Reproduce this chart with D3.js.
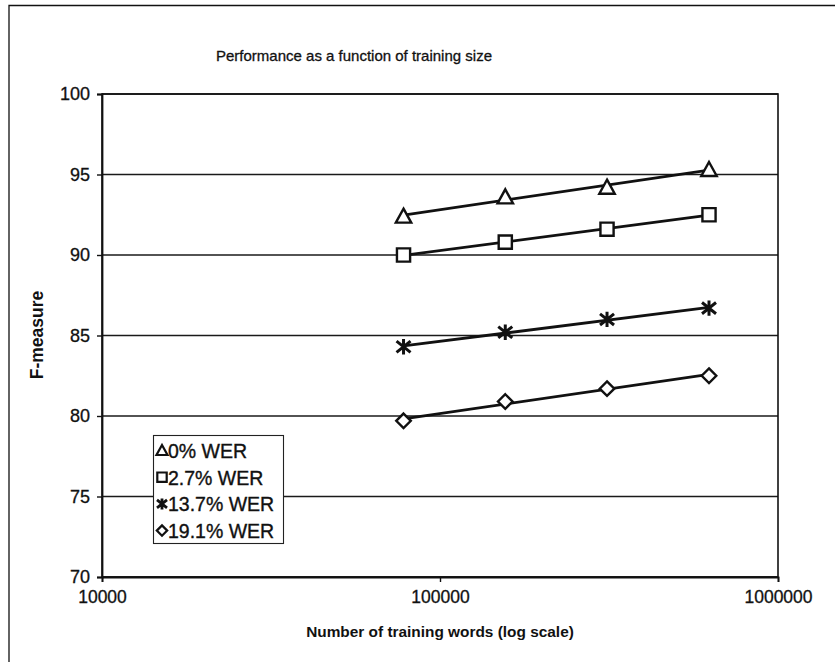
<!DOCTYPE html>
<html>
<head>
<meta charset="utf-8">
<script src="https://cdn.jsdelivr.net/npm/d3@7"></script>
<style>
  body { margin: 0; background: #fff; }
  svg { font-family: "Liberation Sans", Arial, sans-serif; }
</style>
</head>
<body>
<svg width="835" height="662"></svg>
<script>
const width = 835;
const height = 662;

// data
const trainingWords = [78000, 156000, 312000, 625000];
const seriesNames = ["0% WER", "2.7% WER", "13.7% WER", "19.1% WER"];
const seriesSymbols = ["triangle", "square", "star", "diamond"];
const wer0 = [92.4, 93.6, 94.2, 95.3];
const wer27 = [90.0, 90.8, 91.6, 92.5];
const wer137 = [84.3, 85.2, 86.0, 86.7];
const wer191 = [79.7, 80.9, 81.7, 82.5];
const seriesValues = [wer0, wer27, wer137, wer191];
const yTicks = [70, 75, 80, 85, 90, 95, 100];
const xTicks = [10000, 100000, 1000000];

const svg = d3.select("svg");
const ink = "#111";

const plot = { left: 102, right: 778, top: 94, bottom: 577 };

const x = d3.scaleLog().domain([10000, 1000000]).range([plot.left, plot.right]);
const y = d3.scaleLinear().domain([70, 100]).range([plot.bottom, plot.top]);

// outer frame (only top and left edges show in the scan)
svg.append("path")
    .attr("d", `M9,${height}V5.5H${width}`)
    .attr("fill", "none")
    .attr("stroke", ink)
    .attr("stroke-width", 1.3);

svg.append("text")
    .attr("x", 354).attr("y", 61)
    .attr("text-anchor", "middle")
    .attr("font-size", "15px")
    .attr("fill", ink)
    .attr("stroke", ink).attr("stroke-width", 0.3)
    .text("Performance as a function of training size");

// gridlines
svg.append("g")
    .selectAll("line")
    .data(yTicks)
    .join("line")
    .attr("x1", plot.left).attr("x2", plot.right)
    .attr("y1", d => y(d)).attr("y2", d => y(d))
    .attr("stroke", "#1a1a1a")
    .attr("stroke-width", 1.4);

// plot border
svg.append("rect")
    .attr("x", plot.left).attr("y", plot.top)
    .attr("width", plot.right - plot.left).attr("height", plot.bottom - plot.top)
    .attr("fill", "none")
    .attr("stroke", ink)
    .attr("stroke-width", 1.6);

const yAxis = svg.append("g")
    .attr("transform", `translate(${plot.left},0)`)
    .call(d3.axisLeft(y).tickValues(yTicks).tickSize(5).tickPadding(7).tickFormat(d3.format("d")));
yAxis.select(".domain").attr("stroke", ink).attr("stroke-width", 1.8);
yAxis.selectAll(".tick line").attr("stroke", ink).attr("stroke-width", 1.4);
yAxis.selectAll(".tick text")
    .attr("font-size", "18px").attr("fill", ink)
    .attr("stroke", ink).attr("stroke-width", 0.3)
    .attr("font-family", "Liberation Sans, Arial, sans-serif");

const xAxis = svg.append("g")
    .attr("transform", `translate(0,${plot.bottom})`)
    .call(d3.axisBottom(x).tickValues(xTicks).tickSize(5).tickPadding(9).tickFormat(d3.format("d")));
xAxis.select(".domain").attr("stroke", ink).attr("stroke-width", 1.8);
xAxis.selectAll(".tick line").attr("stroke", ink).attr("stroke-width", 1.4);
xAxis.selectAll(".tick text")
    .attr("font-size", "17.5px").attr("fill", ink)
    .attr("stroke", ink).attr("stroke-width", 0.3)
    .attr("font-family", "Liberation Sans, Arial, sans-serif");

svg.append("text")
    .attr("transform", `translate(43,335) rotate(-90)`)
    .attr("text-anchor", "middle")
    .attr("font-size", "17.5px")
    .attr("font-weight", "bold")
    .attr("fill", ink)
    .text("F-measure");

svg.append("text")
    .attr("x", 440).attr("y", 637)
    .attr("text-anchor", "middle")
    .attr("font-size", "15.4px")
    .attr("font-weight", "bold")
    .attr("fill", ink)
    .text("Number of training words (log scale)");

// marker paths centred at 0,0
function markerPath(type, s) {
    if (type === "triangle") {
        return `M0,${-s * 0.55}L${s * 0.55},${s * 0.45}L${-s * 0.55},${s * 0.45}Z`;
    }
    if (type === "square") {
        const h = s * 0.47;
        return `M${-h},${-h}H${h}V${h}H${-h}Z`;
    }
    if (type === "diamond") {
        const h = s * 0.52;
        return `M0,${-h}L${h},0L0,${h}L${-h},0Z`;
    }
    const h = s * 0.5;
    return `M${-h},${-h * 0.8}L${h},${h * 0.8}M${h},${-h * 0.8}L${-h},${h * 0.8}M0,${-h * 1.1}V${h * 1.1}`;
}

// logarithmic trend lines (least squares in log10 x)
function trend(vals) {
    const lx = trainingWords.map(v => Math.log10(v));
    const mx = d3.mean(lx), my = d3.mean(vals);
    const b = d3.sum(lx, (v, i) => (v - mx) * (vals[i] - my)) / d3.sum(lx, v => (v - mx) * (v - mx));
    const a = my - b * mx;
    const x0 = trainingWords[0], x1 = trainingWords[trainingWords.length - 1];
    return [[x0, a + b * Math.log10(x0)], [x1, a + b * Math.log10(x1)]];
}

const line = d3.line().x(d => x(d[0])).y(d => y(d[1]));

seriesValues.forEach((vals, i) => {
    svg.append("path")
        .attr("d", line(trend(vals)))
        .attr("fill", "none")
        .attr("stroke", ink)
        .attr("stroke-width", 2.8);

    svg.append("g")
        .selectAll("path")
        .data(vals)
        .join("path")
        .attr("transform", (d, j) => `translate(${x(trainingWords[j])},${y(d)})`)
        .attr("d", markerPath(seriesSymbols[i], 14))
        .attr("fill", seriesSymbols[i] === "star" ? "none" : "#fff")
        .attr("stroke", ink)
        .attr("stroke-width", seriesSymbols[i] === "star" ? 3 : 2.4);
});

// legend
const legend = svg.append("g").attr("transform", "translate(153,435)");
legend.append("rect")
    .attr("x", 0.5).attr("y", 0.5)
    .attr("width", 130).attr("height", 108)
    .attr("fill", "#fff")
    .attr("stroke", "#222")
    .attr("stroke-width", 1.1);

const items = legend.selectAll("g.item")
    .data(seriesNames)
    .join("g")
    .attr("class", "item")
    .attr("transform", (d, i) => `translate(9,${15.5 + i * 26.7})`);

items.append("path")
    .attr("d", (d, i) => markerPath(seriesSymbols[i], 10))
    .attr("fill", (d, i) => seriesSymbols[i] === "star" ? "none" : "#fff")
    .attr("stroke", ink)
    .attr("stroke-width", (d, i) => seriesSymbols[i] === "star" ? 2.8 : 2.2);

items.append("text")
    .attr("x", 6)
    .attr("y", 7.5)
    .attr("font-size", "19.5px")
    .attr("fill", ink)
    .attr("stroke", ink).attr("stroke-width", 0.35)
    .text(d => d);
</script>
</body>
</html>
